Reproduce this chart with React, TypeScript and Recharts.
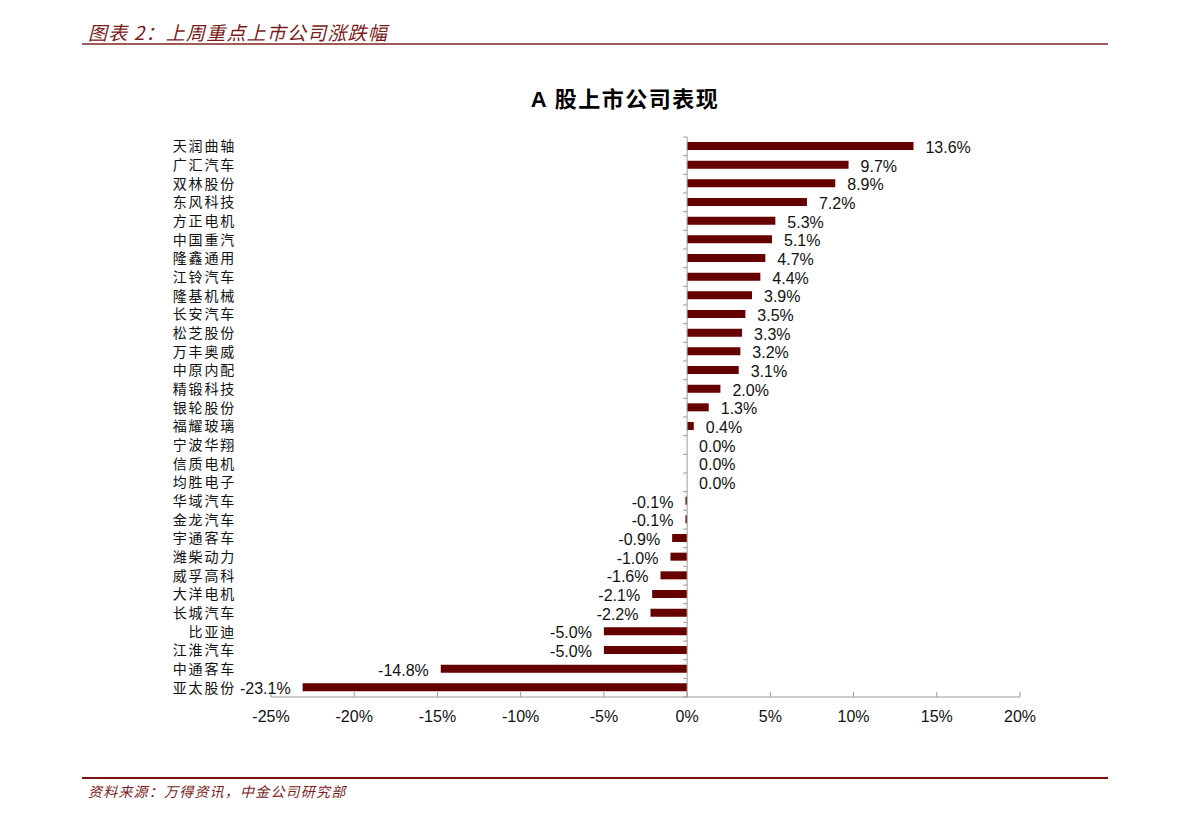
import { BarChart, Bar, XAxis, YAxis, ReferenceLine, LabelList } from "recharts";

// Stocks, top to bottom, with last week's price change (%)
const companies = [
  "天润曲轴", "广汇汽车", "双林股份", "东风科技", "方正电机", "中国重汽",
  "隆鑫通用", "江铃汽车", "隆基机械", "长安汽车", "松芝股份", "万丰奥威",
  "中原内配", "精锻科技", "银轮股份", "福耀玻璃", "宁波华翔", "信质电机",
  "均胜电子", "华域汽车", "金龙汽车", "宇通客车", "潍柴动力", "威孚高科",
  "大洋电机", "长城汽车", "比亚迪", "江淮汽车", "中通客车", "亚太股份",
];
const changes = [
  13.6, 9.7, 8.9, 7.2, 5.3, 5.1,
  4.7, 4.4, 3.9, 3.5, 3.3, 3.2,
  3.1, 2.0, 1.3, 0.4, 0.0, 0.0,
  0.0, -0.1, -0.1, -0.9, -1.0, -1.6,
  -2.1, -2.2, -5.0, -5.0, -14.8, -23.1,
];
const xTicks = [-25, -20, -15, -10, -5, 0, 5, 10, 15, 20];

const data = companies.map((name, i) => ({ name, change: changes[i] }));

const W = 1191;
const H = 819;
const PLOT_LEFT = 271;
const PLOT_RIGHT = 1020;
const PLOT_TOP = 137;
const PLOT_BOTTOM = 697;
const X_MIN = -25;
const X_MAX = 20;
const ZERO_X = PLOT_LEFT + ((PLOT_RIGHT - PLOT_LEFT) * -X_MIN) / (X_MAX - X_MIN);
const BAND = (PLOT_BOTTOM - PLOT_TOP) / companies.length;

const AXIS = "#9a9a9a";
const BAR = "#660000";
const RED = "#7b1c1c";
const LATIN = '"Liberation Sans", Arial, sans-serif';
const CJK = '"Noto Sans CJK SC", sans-serif';

// company name on the left, plus the small tick on the zero line between rows
const CategoryTick = (props: any) => {
  const { y, payload, index } = props;
  const last = index === companies.length - 1;
  return (
    <g>
      <text
        x={236}
        y={y}
        dy={5}
        textAnchor="end"
        fontFamily={CJK}
        fontSize={14}
        letterSpacing={1.8}
        fill="#111"
      >
        {payload.value}
      </text>
      <line x1={ZERO_X - 4} x2={ZERO_X} y1={y - BAND / 2} y2={y - BAND / 2} stroke={AXIS} />
      {last && (
        <line x1={ZERO_X - 4} x2={ZERO_X} y1={y + BAND / 2} y2={y + BAND / 2} stroke={AXIS} />
      )}
    </g>
  );
};

const ValueLabel = (props: any) => {
  const { x, y, width, height, value } = props;
  const v = Number(value);
  const left = Math.min(x, x + width);
  const right = Math.max(x, x + width);
  const pos = v >= 0;
  return (
    <text
      x={pos ? right + 12 : left - 12}
      y={y + height / 2}
      dy={7}
      textAnchor={pos ? "start" : "end"}
      fontFamily={LATIN}
      fontSize={16}
      fill="#111"
    >
      {v.toFixed(1)}%
    </text>
  );
};

export default function App() {
  return (
    <div style={{ position: "absolute", left: 0, top: 0, width: W, height: H, background: "#fff" }}>
      <div
        style={{
          position: "absolute",
          left: 88,
          top: 18,
          fontFamily: CJK,
          fontStyle: "italic",
          fontSize: 19,
          color: RED,
          letterSpacing: 1.2,
        }}
      >
        图表 2：上周重点上市公司涨跌幅
      </div>
      <div style={{ position: "absolute", left: 82, top: 43, width: 1026, height: 1.5, background: "#a05a5a" }} />

      <div
        style={{
          position: "absolute",
          left: 425,
          width: 400,
          top: 81,
          textAlign: "center",
          fontFamily: `${LATIN.split(",")[0]}, ${CJK}`,
          fontWeight: "bold",
          fontSize: 22,
          letterSpacing: 1.5,
          color: "#000",
        }}
      >
        A 股上市公司表现
      </div>

      <div style={{ position: "absolute", left: 0, top: 0 }}>
        <BarChart
          width={W}
          height={H}
          data={data}
          layout="vertical"
          margin={{ top: PLOT_TOP, right: W - PLOT_RIGHT, bottom: H - PLOT_BOTTOM - 30, left: 0 }}
        >
          <XAxis
            type="number"
            domain={[X_MIN, X_MAX]}
            ticks={xTicks}
            height={30}
            tickFormatter={(v: number) => `${v}%`}
            axisLine={{ stroke: AXIS }}
            tickLine={{ stroke: AXIS }}
            tickSize={-5}
            tickMargin={19}
            tick={{ fill: "#111", fontFamily: LATIN, fontSize: 16 }}
            allowDataOverflow
          />
          <YAxis
            type="category"
            dataKey="name"
            width={PLOT_LEFT}
            axisLine={false}
            tickLine={false}
            interval={0}
            tick={<CategoryTick />}
          />
          <ReferenceLine x={0} stroke={AXIS} strokeWidth={1} />
          <Bar
            dataKey="change"
            fill={BAR}
            barSize={8}
            minPointSize={(v: number) => (v === 0 ? 0.01 : 0)}
            isAnimationActive={false}
          >
            <LabelList dataKey="change" content={<ValueLabel />} />
          </Bar>
        </BarChart>
      </div>

      <div style={{ position: "absolute", left: 82, top: 777, width: 1026, height: 1.5, background: "#7f1010" }} />
      <div
        style={{
          position: "absolute",
          left: 88,
          top: 781,
          fontFamily: CJK,
          fontStyle: "italic",
          fontSize: 14,
          letterSpacing: 1.2,
          color: RED,
        }}
      >
        资料来源：万得资讯，中金公司研究部
      </div>
    </div>
  );
}
